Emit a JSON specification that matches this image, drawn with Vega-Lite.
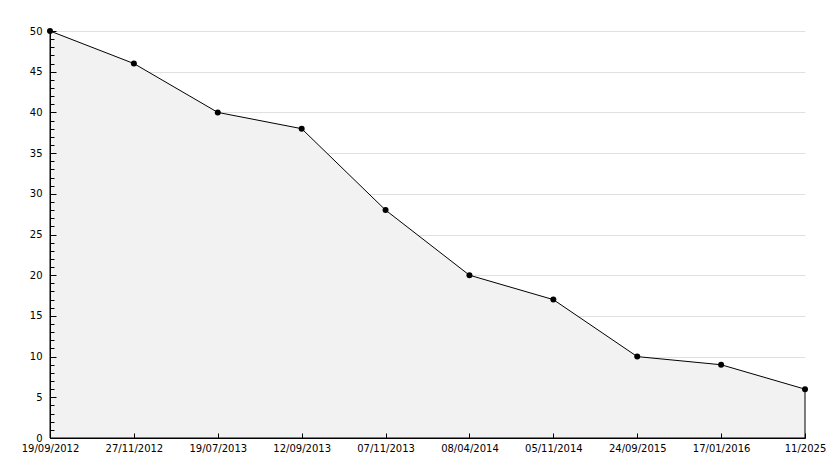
{
  "$schema": "https://vega.github.io/schema/vega-lite/v6.json",
  "width": 755,
  "height": 407,
  "autosize": "none",
  "padding": {"left": 50, "top": 31, "right": 29, "bottom": 30},
  "background": "white",
  "config": {
    "view": {"stroke": null},
    "axis": {
      "labelFont": "DejaVu Sans",
      "labelFontSize": 10,
      "labelColor": "#000000",
      "domainColor": "#000000",
      "domainWidth": 1,
      "tickColor": "#000000",
      "tickWidth": 1
    }
  },
  "data": {
    "values": [
      {"date": "19/09/2012", "value": 50},
      {"date": "27/11/2012", "value": 46},
      {"date": "19/07/2013", "value": 40},
      {"date": "12/09/2013", "value": 38},
      {"date": "07/11/2013", "value": 28},
      {"date": "08/04/2014", "value": 20},
      {"date": "05/11/2014", "value": 17},
      {"date": "24/09/2015", "value": 10},
      {"date": "17/01/2016", "value": 9},
      {"date": "11/2025", "value": 6}
    ]
  },
  "encoding": {
    "x": {
      "field": "date",
      "type": "ordinal",
      "sort": null,
      "scale": {"type": "point", "padding": 0},
      "axis": {
        "title": null,
        "labelAngle": 0,
        "tickSize": -5,
        "labelPadding": 10,
        "grid": false,
        "zindex": 1
      }
    }
  },
  "layer": [
    {
      "mark": {"type": "area", "color": "#f2f2f2", "opacity": 1, "stroke": "#000000", "strokeWidth": 1},
      "encoding": {
        "y": {
          "field": "value",
          "type": "quantitative",
          "scale": {"domain": [0, 50], "nice": false},
          "axis": {
            "title": null,
            "orient": "left",
            "grid": true,
            "gridColor": "#e0e0e0",
            "values": [5, 10, 15, 20, 25, 30, 35, 40, 45, 50],
            "labels": false,
            "ticks": false,
            "domain": false,
            "zindex": 0
          }
        }
      }
    },
    {
      "mark": {"type": "line", "color": "#000000", "strokeWidth": 1, "strokeOpacity": 0},
      "encoding": {
        "y": {
          "field": "value",
          "type": "quantitative",
          "scale": {"domain": [0, 50], "nice": false},
          "axis": {
            "title": null,
            "orient": "left",
            "grid": false,
            "values": [0,1,2,3,4,5,6,7,8,9,10,11,12,13,14,15,16,17,18,19,20,21,22,23,24,25,26,27,28,29,30,31,32,33,34,35,36,37,38,39,40,41,42,43,44,45,46,47,48,49,50],
            "labelExpr": "datum.value % 5 === 0 ? datum.label : ''",
            "tickSize": {"condition": {"test": "datum.value % 5 === 0", "value": -6}, "value": -4},
            "labelPadding": 14,
            "zindex": 1
          }
        }
      }
    },
    {
      "mark": {"type": "point", "filled": true, "color": "#000000", "size": 36, "opacity": 1},
      "encoding": {
        "y": {"field": "value", "type": "quantitative", "axis": null}
      }
    }
  ],
  "resolve": {"axis": {"y": "independent"}}
}
